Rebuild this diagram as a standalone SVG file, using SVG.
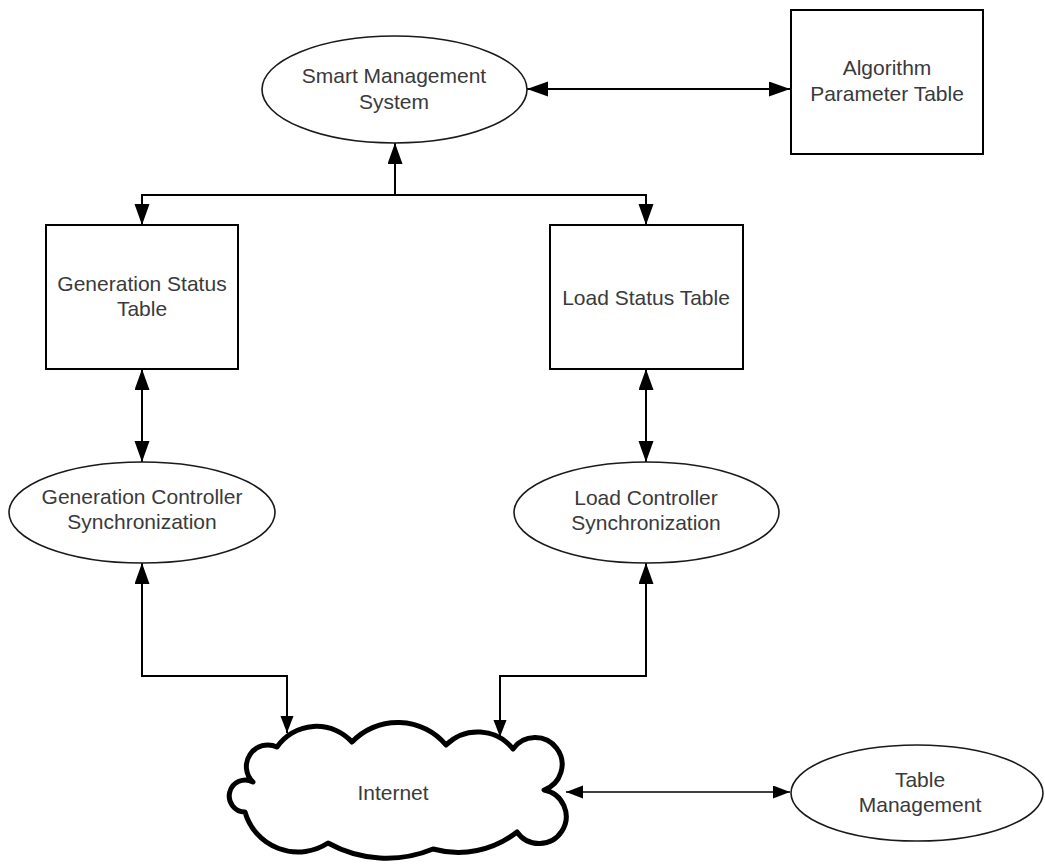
<svg xmlns="http://www.w3.org/2000/svg" width="1045" height="865" viewBox="0 0 1045 865">
<style>
  .bg { fill: #ffffff; }
  .box { fill: #ffffff; stroke: #000000; stroke-width: 2; }
  .ell { fill: #ffffff; stroke: #1a1a1a; stroke-width: 1.6; }
  .cloud { fill: #ffffff; stroke: #000000; stroke-width: 5; stroke-linejoin: round; }
  .lbl { font-family: "Liberation Sans", Arial, sans-serif; font-size: 21px; fill: #3a3a3a; text-anchor: middle; }
  .conn { fill: none; stroke: #000000; stroke-width: 2; }
  .conn-thin { fill: none; stroke: #000000; stroke-width: 1.6; }
</style>
<defs>
  <marker id="ah" markerUnits="userSpaceOnUse" markerWidth="22" markerHeight="16" refX="21" refY="7.5" orient="auto-start-reverse">
    <path d="M0,0 L21,7.5 L0,15 z" fill="#000000"/>
  </marker>
  <marker id="ahs" markerUnits="userSpaceOnUse" markerWidth="18" markerHeight="14" refX="17" refY="6.5" orient="auto-start-reverse">
    <path d="M0,0 L17,6.5 L0,13 z" fill="#000000"/>
  </marker>
</defs>
<rect class="bg" x="0" y="0" width="1045" height="865"/>

<g id="connectors">
  <path class="conn" d="M527,89 H790" marker-start="url(#ah)" marker-end="url(#ah)"/>
  <path class="conn" d="M395,195 V143" marker-end="url(#ah)"/>
  <path class="conn" d="M142,225 V195 H646 V225" marker-start="url(#ah)" marker-end="url(#ah)"/>
  <path class="conn" d="M142,369 V462" marker-start="url(#ah)" marker-end="url(#ah)"/>
  <path class="conn" d="M646,369 V462" marker-start="url(#ah)" marker-end="url(#ah)"/>
  <path class="conn" d="M142,563 V676 H287 V733" marker-start="url(#ah)" marker-end="url(#ahs)"/>
  <path class="conn" d="M646,563 V676 H500 V737" marker-start="url(#ah)" marker-end="url(#ahs)"/>
  <path class="conn-thin" d="M566,792 H790" marker-start="url(#ahs)" marker-end="url(#ahs)"/>
</g>

<g id="smart-management-system">
  <ellipse class="ell" cx="394.5" cy="89.5" rx="132.5" ry="53.5"/>
  <text class="lbl" x="394" y="83">Smart Management</text>
  <text class="lbl" x="394" y="109">System</text>
</g>

<g id="algorithm-parameter-table">
  <rect class="box" x="791" y="10" width="192" height="144" stroke-width="2.5"/>
  <text class="lbl" x="887" y="75">Algorithm</text>
  <text class="lbl" x="887" y="101">Parameter Table</text>
</g>

<g id="generation-status-table">
  <rect class="box" x="46" y="225" width="192" height="144"/>
  <text class="lbl" x="142" y="291">Generation Status</text>
  <text class="lbl" x="142" y="316">Table</text>
</g>

<g id="load-status-table">
  <rect class="box" x="550" y="225" width="193" height="144"/>
  <text class="lbl" x="646" y="305">Load Status Table</text>
</g>

<g id="generation-controller-synchronization">
  <ellipse class="ell" cx="142" cy="512.5" rx="133" ry="50.5"/>
  <text class="lbl" x="142" y="504">Generation Controller</text>
  <text class="lbl" x="142" y="529">Synchronization</text>
</g>

<g id="load-controller-synchronization">
  <ellipse class="ell" cx="646.5" cy="512.5" rx="132.5" ry="50.5"/>
  <text class="lbl" x="646" y="505">Load Controller</text>
  <text class="lbl" x="646" y="530">Synchronization</text>
</g>

<g id="internet">
  <path class="cloud" d="M277,747 A48,48 0 0 1 352,742 A63,63 0 0 1 446,745 A45,45 0 0 1 513,749 A27,27 0 1 1 544,790 A27,27 0 1 1 517,832 A95,95 0 0 1 433,849 A121,121 0 0 1 328,843 A55,55 0 0 1 245,812 A16,16 0 1 1 253,782 A21.5,21.5 0 0 1 277,747 Z"/>
  <text class="lbl" x="393" y="800">Internet</text>
</g>

<g id="table-management">
  <ellipse class="ell" cx="917" cy="793" rx="126" ry="48"/>
  <text class="lbl" x="920" y="787">Table</text>
  <text class="lbl" x="920" y="812">Management</text>
</g>
</svg>
